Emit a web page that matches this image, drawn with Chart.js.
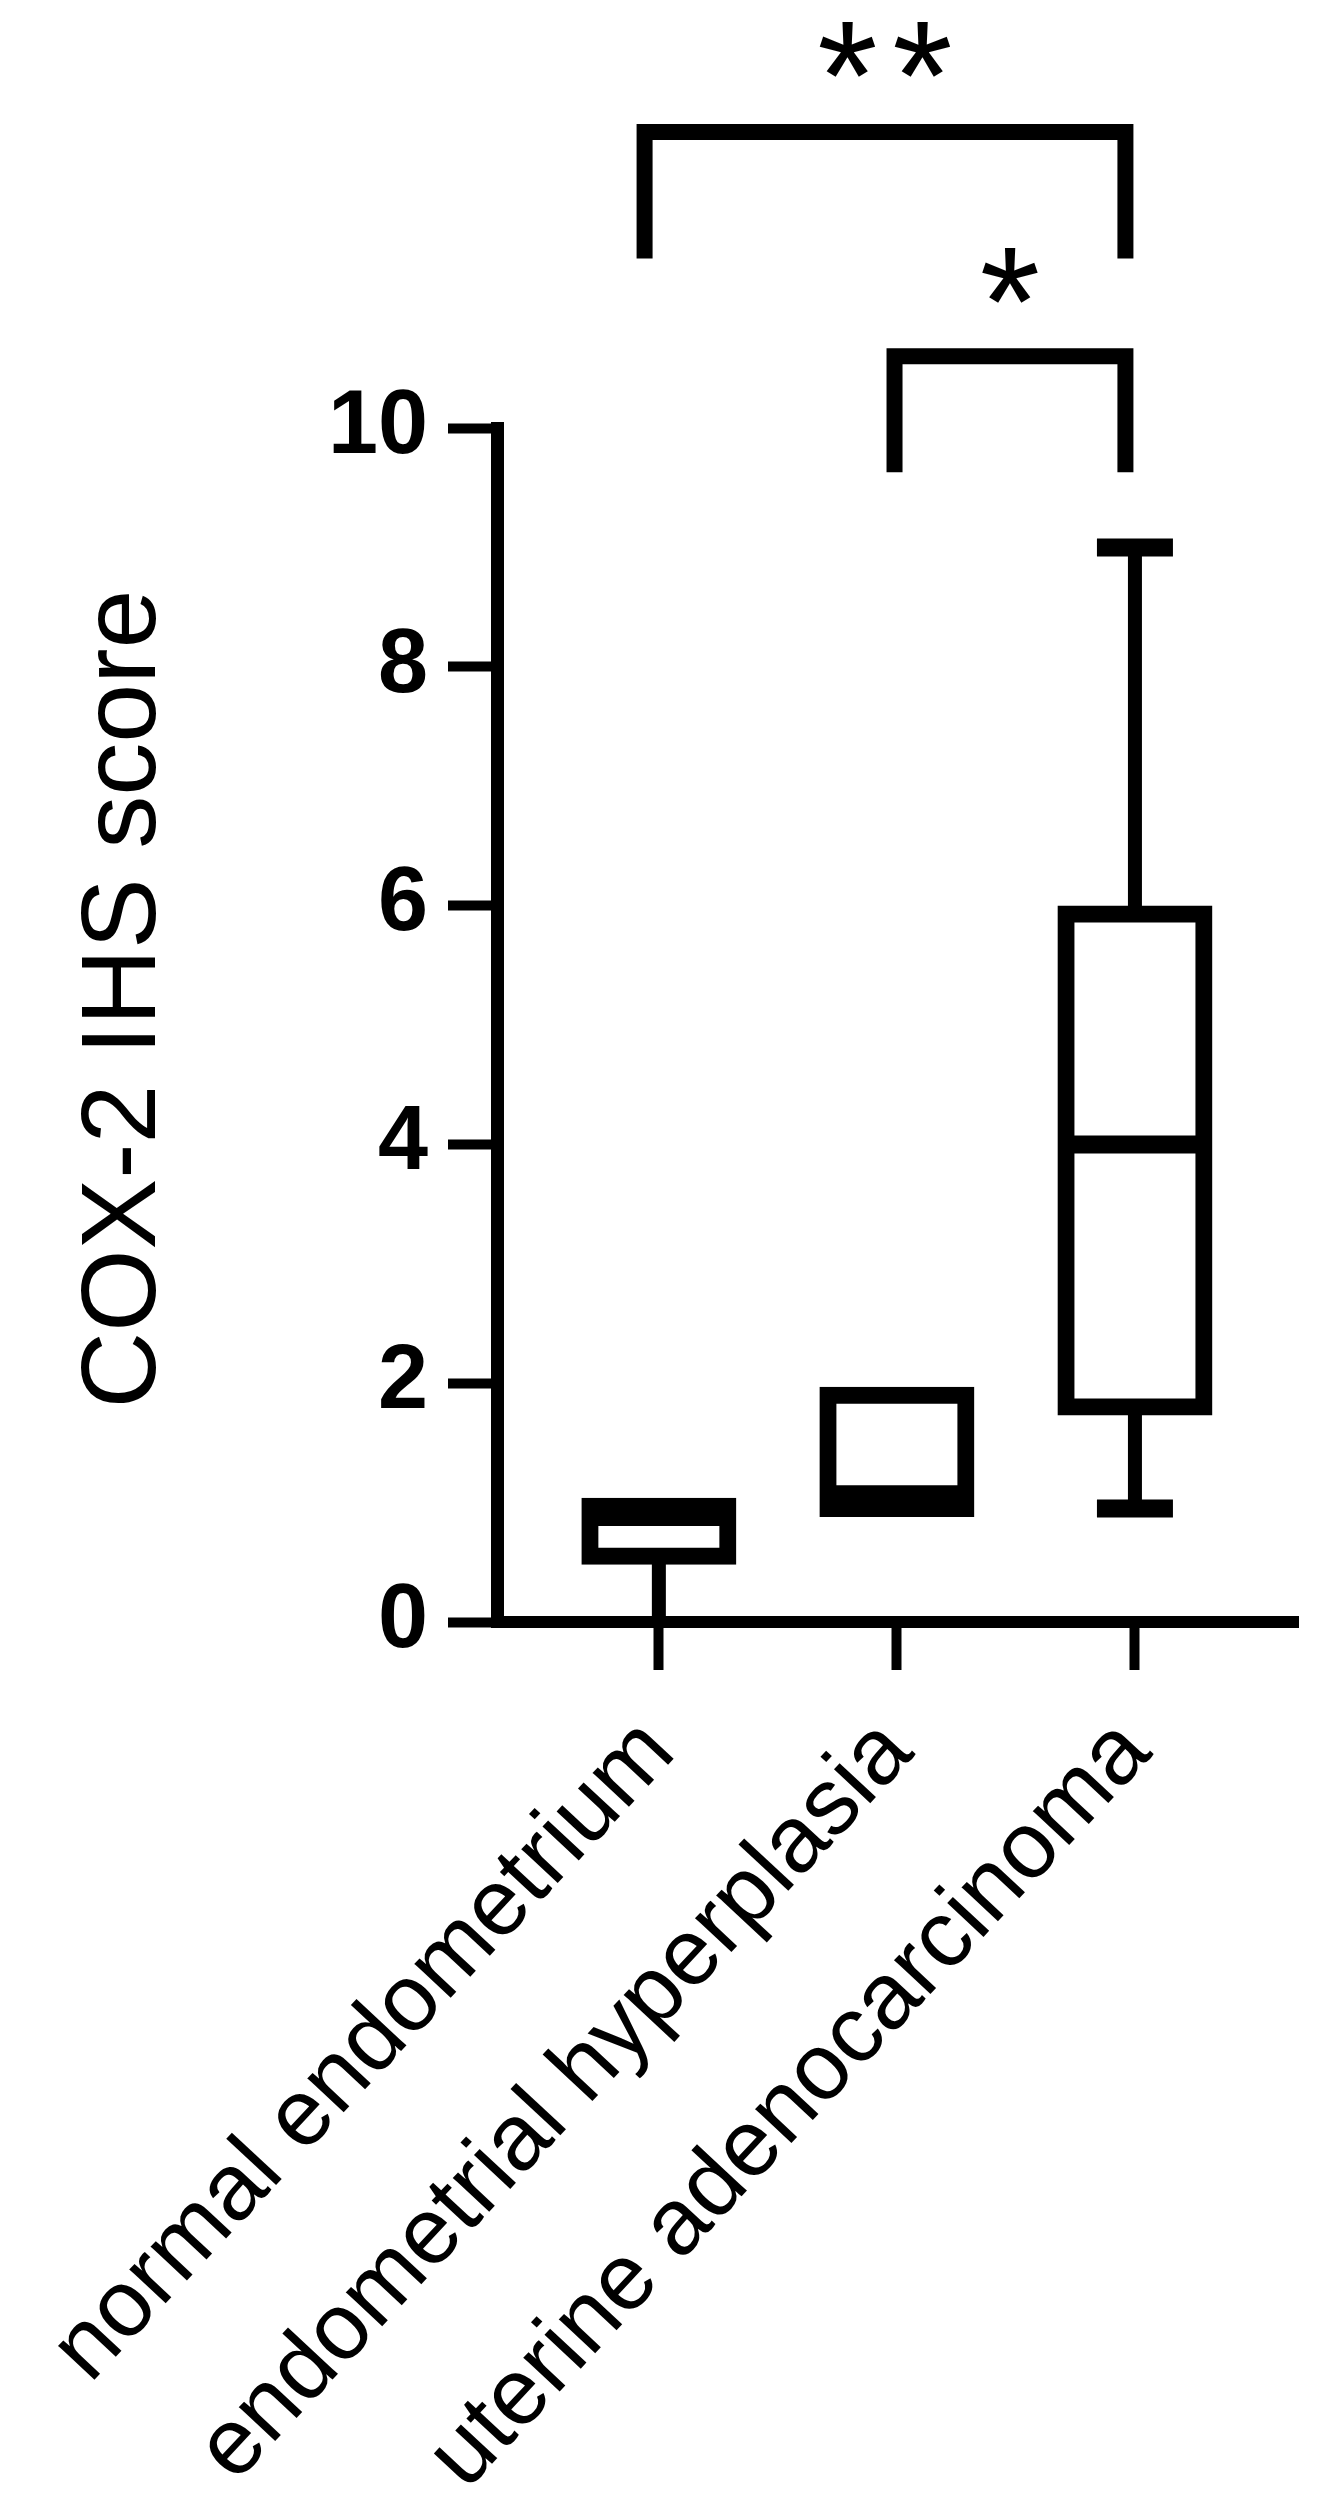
<!DOCTYPE html>
<html>
<head>
<meta charset="utf-8">
<script src="https://cdn.jsdelivr.net/npm/chart.js@4.4.1/dist/chart.umd.min.js"></script>
<style>
  html, body { margin: 0; padding: 0; background: #ffffff; }
  #wrap { width: 1320px; height: 2502px; }
</style>
</head>
<body>
<div id="wrap"><canvas id="c" width="1320" height="2502"></canvas></div>
<script>
// ---- data ----
const categories = ['normal endometrium', 'endometrial hyperplasia', 'uterine adenocarcinoma'];
const minValues = [0, 0.95, 0.95];
const q1Values = [0.55, 0.95, 1.8];
const medianValues = [0.88, 1.07, 4.0];
const q3Values = [0.97, 1.9, 5.93];
const maxValues = [0.97, 1.9, 9.0];
const yTickValues = [0, 2, 4, 6, 8, 10];
const xTickValues = [0, 1, 2];
const yAxisTitle = 'COX-2 IHS score';

// significance comparisons (in data units)
const comparisonLabels = ['**', '*'];
const bracketStart = [-0.06, 0.99];
const bracketEnd = [1.96, 1.96];
const bracketTop = [12.48, 10.6];
const bracketLegEnd = [11.42, 9.63];
const starCenter = [13.17, 11.28];

const FONT = "'Liberation Sans', Arial, Helvetica, sans-serif";
Chart.defaults.font.family = FONT;
Chart.defaults.color = '#000';

const boxPartsPlugin = {
  id: 'boxParts',
  afterDatasetsDraw(chart) {
    const { ctx, scales: { x, y } } = chart;
    const meta = chart.getDatasetMeta(0);
    ctx.save();
    ctx.strokeStyle = '#000';
    ctx.lineCap = 'butt';
    categories.forEach((c, i) => {
      const el = meta.data[i];
      const cx = x.getPixelForValue(i);
      const half = el.width / 2;
      const yq1 = y.getPixelForValue(q1Values[i]);
      const yq3 = y.getPixelForValue(q3Values[i]);
      const yMed = y.getPixelForValue(medianValues[i]);
      const yMin = y.getPixelForValue(minValues[i]);
      const yMax = y.getPixelForValue(maxValues[i]);
      const capHalf = 38;
      if (maxValues[i] > q3Values[i]) {
        ctx.lineWidth = 14;
        ctx.beginPath(); ctx.moveTo(cx, yq3); ctx.lineTo(cx, yMax); ctx.stroke();
        ctx.lineWidth = 18;
        ctx.beginPath(); ctx.moveTo(cx - capHalf, yMax); ctx.lineTo(cx + capHalf, yMax); ctx.stroke();
      }
      if (minValues[i] < q1Values[i]) {
        ctx.lineWidth = 14;
        ctx.beginPath(); ctx.moveTo(cx, yq1); ctx.lineTo(cx, yMin); ctx.stroke();
        if (minValues[i] > y.min) {
          ctx.lineWidth = 18;
          ctx.beginPath(); ctx.moveTo(cx - capHalf, yMin); ctx.lineTo(cx + capHalf, yMin); ctx.stroke();
        }
      }
      ctx.lineWidth = 18;
      ctx.beginPath(); ctx.moveTo(cx - half, yMed); ctx.lineTo(cx + half, yMed); ctx.stroke();
    });
    ctx.restore();
  }
};

const significancePlugin = {
  id: 'significance',
  afterDraw(chart) {
    const { ctx, scales: { x, y } } = chart;
    ctx.save();
    ctx.strokeStyle = '#000';
    ctx.fillStyle = '#000';
    ctx.lineWidth = 16;
    ctx.lineJoin = 'miter';
    ctx.lineCap = 'butt';
    comparisonLabels.forEach((lab, i) => {
      const x1 = x.getPixelForValue(bracketStart[i]);
      const x2 = x.getPixelForValue(bracketEnd[i]);
      const yt = y.getPixelForValue(bracketTop[i]);
      const yl = y.getPixelForValue(bracketLegEnd[i]);
      ctx.beginPath();
      ctx.moveTo(x1, yl); ctx.lineTo(x1, yt); ctx.lineTo(x2, yt); ctx.lineTo(x2, yl);
      ctx.stroke();

      ctx.font = '155px ' + FONT;
      ctx.textAlign = 'center';
      ctx.textBaseline = 'alphabetic';
      const m = ctx.measureText('*');
      const cy = y.getPixelForValue(starCenter[i]);
      const baseline = cy + (m.actualBoundingBoxAscent - m.actualBoundingBoxDescent) / 2;
      const gap = 75;
      const mid = (x1 + x2) / 2;
      const n = lab.length;
      for (let k = 0; k < n; k++) {
        ctx.fillText(lab[k], mid + (k - (n - 1) / 2) * gap, baseline);
      }
    });
    ctx.restore();
  }
};

// y-axis title, drawn rotated beside the y scale
const axisTitlePlugin = {
  id: 'axisTitle',
  afterDraw(chart) {
    const { ctx, chartArea } = chart;
    const yScale = chart.scales.y;
    ctx.save();
    ctx.fillStyle = '#000';
    ctx.font = '106px ' + FONT;
    ctx.textAlign = 'center';
    ctx.textBaseline = 'middle';
    const cx = yScale.left + 126;
    const cy = (chartArea.top + chartArea.bottom) / 2 - 26;
    ctx.translate(cx, cy);
    ctx.rotate(-Math.PI / 2);
    ctx.fillText(yAxisTitle, 0, 0);
    ctx.restore();
  }
};

new Chart(document.getElementById('c'), {
  type: 'bar',
  data: {
    datasets: [{
      data: categories.map((c, i) => ({ x: i, y: [q1Values[i], q3Values[i]] })),
      backgroundColor: '#ffffff',
      borderColor: '#000000',
      borderWidth: 17,
      borderSkipped: false,
      inflateAmount: 8.5,
      barThickness: 138,
      grouped: false
    }]
  },
  options: {
    responsive: false,
    animation: false,
    devicePixelRatio: 1,
    layout: { padding: { top: 428, right: 22, left: 0, bottom: 0 } },
    plugins: { legend: { display: false }, tooltip: { enabled: false }, title: { display: false } },
    scales: {
      x: {
        type: 'linear',
        min: -0.68,
        max: 2.685,
        offset: false,
        afterBuildTicks: s => { s.ticks = xTickValues.map(v => ({ value: v })); },
        afterFit: s => { s.height = 880; s.paddingLeft = 0; s.paddingRight = 0; },
        grid: { display: true, offset: false, drawOnChartArea: false, drawTicks: true, tickLength: 48, tickWidth: 10, tickColor: '#000' },
        border: { display: true, width: 12, color: '#000' },
        ticks: {
          autoSkip: false, maxRotation: 47, minRotation: 47, padding: 28,
          font: { size: 94 }, color: '#000',
          callback: v => (categories[v] !== undefined ? categories[v] : '')
        }
      },
      y: {
        min: 0,
        max: 10,
        afterBuildTicks: s => { s.ticks = yTickValues.map(v => ({ value: v })); },
        afterFit: s => { s.width = 497; s.paddingTop = 0; s.paddingBottom = 0; },
        grid: { display: true, drawOnChartArea: false, drawTicks: true, tickLength: 49, tickWidth: 10, tickColor: '#000' },
        border: { display: true, width: 13, color: '#000' },
        ticks: { padding: 20, font: { size: 90, weight: 'bold' }, color: '#000' },
        title: { display: false, text: yAxisTitle }
      }
    }
  },
  plugins: [boxPartsPlugin, significancePlugin, axisTitlePlugin]
});
</script>
</body>
</html>
